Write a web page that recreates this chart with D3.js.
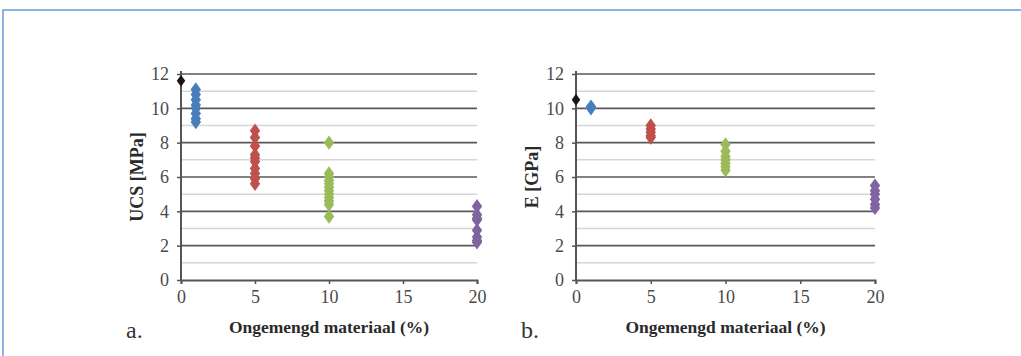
<!DOCTYPE html>
<html>
<head>
<meta charset="utf-8">
<script src="https://cdn.jsdelivr.net/npm/d3@7"></script>
<style>
  body { margin: 0; background: #fff; }
  svg text { font-family: "Liberation Serif", "DejaVu Serif", serif; }
</style>
</head>
<body>
<svg id="chart" width="1021" height="356"></svg>
<script>
// x positions of the series (% ongemengd materiaal)
const xRef = 0, xBlue = 1, xRed = 5, xGreen = 10, xPurple = 20;
const xTicks = [0, 5, 10, 15, 20];
const yTicks = [0, 2, 4, 6, 8, 10, 12];

// panel a: UCS [MPa]
const ucsRef = [11.6];
const ucsBlue = [11.1, 10.8, 10.5, 10.2, 10.0, 9.7, 9.4, 9.2];
const ucsRed = [8.7, 8.3, 7.8, 7.3, 7.1, 6.9, 6.5, 6.2, 5.9, 5.6];
const ucsGreen = [8.0, 6.2, 6.0, 5.8, 5.6, 5.4, 5.2, 5.0, 4.8, 4.6, 4.4, 3.7];
const ucsPurple = [4.3, 3.8, 3.6, 3.5, 2.9, 2.5, 2.3, 2.2];

// panel b: E [GPa]
const eRef = [10.5];
const eBlue = [10.1, 10.0];
const eRed = [9.0, 8.8, 8.6, 8.4, 8.3];
const eGreen = [7.9, 7.5, 7.2, 7.0, 6.8, 6.6, 6.4];
const ePurple = [5.5, 5.2, 5.0, 4.7, 4.4, 4.2];

const colors = { ref: "#1c1416", blue: "#4a7ebb", red: "#c0504d", green: "#9bbb59", purple: "#8064a2" };

var svg = d3.select("#chart");

// blue frame
svg.append("path")
    .attr("d", "M3,360 L3,10 L1030,10")
    .attr("fill", "none")
    .attr("stroke", "#6a9bd8")
    .attr("stroke-width", 1.5);

function drawPanel(opts) {
    const x = d3.scaleLinear().domain([0, 20]).range([opts.left, opts.right]);
    const y = d3.scaleLinear().domain([0, 12]).range([280, 74]);
    const g = svg.append("g");

    // minor gridlines (odd values)
    g.selectAll("line.minor")
        .data(d3.range(1, 12, 2))
        .enter().append("line")
        .attr("x1", x(0)).attr("x2", x(20))
        .attr("y1", d => y(d)).attr("y2", d => y(d))
        .attr("stroke", "#d6d6d6").attr("stroke-width", 1.5);

    // major gridlines
    g.selectAll("line.major")
        .data(yTicks.slice(1))
        .enter().append("line")
        .attr("x1", x(0)).attr("x2", x(20))
        .attr("y1", d => y(d)).attr("y2", d => y(d))
        .attr("stroke", "#595959").attr("stroke-width", 1.6);

    // axes
    const yAxis = g.append("g")
        .attr("transform", "translate(" + x(0) + ",0)")
        .call(d3.axisLeft(y).tickValues(yTicks).tickSize(4).tickPadding(8));
    const xAxis = g.append("g")
        .attr("transform", "translate(0," + y(0) + ")")
        .call(d3.axisBottom(x).tickValues(xTicks).tickSize(4).tickPadding(6));
    [yAxis, xAxis].forEach(a => {
        a.attr("font-family", "Liberation Serif").attr("font-size", 18);
        a.select(".domain").attr("stroke", "#555").attr("stroke-width", 2);
        a.selectAll(".tick line").attr("stroke", "#555").attr("stroke-width", 1.5);
        a.selectAll(".tick text").attr("fill", "#4a4a4a");
    });
    yAxis.select(".domain").attr("d", "M0," + y(0) + "V" + (y(12) - 3));

    // points
    const sym = d3.symbol().type(d3.symbolDiamond);
    const series = [
        { x: xBlue, v: opts.blue, c: colors.blue, s: 60 },
        { x: xRed, v: opts.red, c: colors.red, s: 60 },
        { x: xGreen, v: opts.green, c: colors.green, s: 60 },
        { x: xPurple, v: opts.purple, c: colors.purple, s: 60 },
        { x: xRef, v: opts.ref, c: colors.ref, s: 40 }
    ];
    series.forEach(s => {
        g.selectAll(null)
            .data(s.v)
            .enter().append("path")
            .attr("d", sym.size(s.s)())
            .attr("transform", d => "translate(" + x(s.x) + "," + y(d) + ") scale(1.25,1)")
            .attr("fill", s.c);
    });

    // axis title
    g.append("text")
        .attr("transform", "translate(" + opts.titleX + "," + y(6) + ") rotate(-90)")
        .attr("text-anchor", "middle")
        .attr("font-size", 18)
        .attr("font-weight", "bold")
        .attr("fill", "#2a2a2a")
        .text(opts.yTitle);

    g.append("text")
        .attr("x", (x(0) + x(20)) / 2)
        .attr("y", 333)
        .attr("text-anchor", "middle")
        .attr("font-size", 17.5)
        .attr("font-weight", "bold")
        .attr("fill", "#2a2a2a")
        .text("Ongemengd materiaal (%)");

    g.append("text")
        .attr("x", opts.labelX)
        .attr("y", 338)
        .attr("font-size", 24)
        .attr("fill", "#333")
        .text(opts.label);
}

drawPanel({ left: 181, right: 477, titleX: 143, labelX: 126, label: "a.", yTitle: "UCS [MPa]",
    ref: ucsRef, blue: ucsBlue, red: ucsRed, green: ucsGreen, purple: ucsPurple });
drawPanel({ left: 576, right: 875, titleX: 538, labelX: 521, label: "b.", yTitle: "E [GPa]",
    ref: eRef, blue: eBlue, red: eRed, green: eGreen, purple: ePurple });
</script>
</body>
</html>
